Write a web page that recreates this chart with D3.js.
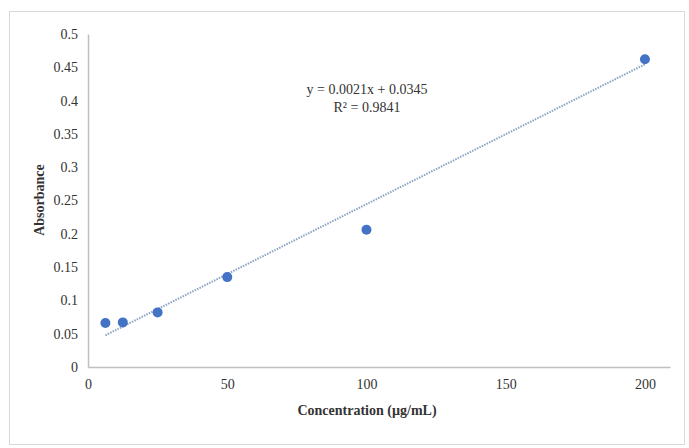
<!DOCTYPE html>
<html><head><meta charset="utf-8">
<script src="https://cdn.jsdelivr.net/npm/d3@7"></script>
<style>body{margin:0;background:#fff}svg{display:block}text{font-family:"Liberation Serif","DejaVu Serif",serif}</style>
</head><body>
<svg id="c" width="689" height="448"></svg>
<script>
const concentration = [6.25, 12.5, 25, 50, 100, 200];
const absorbance = [0.066, 0.067, 0.082, 0.135, 0.206, 0.462];
const xTicks = [0, 50, 100, 150, 200];
const yTicks = [0, 0.05, 0.1, 0.15, 0.2, 0.25, 0.3, 0.35, 0.4, 0.45, 0.5];
const trendSlope = 0.0021, trendIntercept = 0.0345;
const equationLabel = "y = 0.0021x + 0.0345";
const r2Label = "R² = 0.9841";

const svg = d3.select("#c");
svg.append("rect").attr("x",9.5).attr("y",11.5).attr("width",675).attr("height",433)
  .attr("fill","#fff").attr("stroke","#d9d9d9");

const x = d3.scaleLinear().domain([0,209]).range([88,670]);
const y = d3.scaleLinear().domain([0,0.5]).range([367,34]);

const xa = svg.append("g").attr("transform","translate(0,367)")
  .call(d3.axisBottom(x).tickValues(xTicks).tickSize(0).tickPadding(12).tickFormat(d3.format("d")));
const ya = svg.append("g").attr("transform","translate(88,0)")
  .call(d3.axisLeft(y).tickValues(yTicks).tickSize(0).tickPadding(10).tickFormat(d=>String(+d.toFixed(2))));
[xa,ya].forEach(a=>{a.select(".domain").attr("stroke","#bfbfbf").attr("stroke-width",1.5);
  a.selectAll("text").attr("font-size",14).attr("fill","#333").attr("font-family","Liberation Serif");});

// trendline
const tx = d3.extent(concentration);
svg.append("line")
  .attr("x1",x(tx[0])).attr("y1",y(trendSlope*tx[0]+trendIntercept))
  .attr("x2",x(tx[1])).attr("y2",y(trendSlope*tx[1]+trendIntercept))
  .attr("stroke","#8aa2c6").attr("stroke-width",2).attr("stroke-dasharray","1.5,1.2");

svg.selectAll("circle.pt").data(concentration).join("circle").attr("class","pt")
  .attr("cx",d=>x(d)).attr("cy",(d,i)=>y(absorbance[i])).attr("r",5)
  .attr("fill","#4472c4");

svg.append("text").attr("x",367).attr("y",94).attr("text-anchor","middle")
  .attr("font-size",14).attr("fill","#333").text(equationLabel);
svg.append("text").attr("x",367).attr("y",112).attr("text-anchor","middle")
  .attr("font-size",14).attr("fill","#333").text(r2Label);

svg.append("text").attr("x",367).attr("y",415).attr("text-anchor","middle")
  .attr("font-size",14).attr("font-weight","bold").attr("fill","#333").text("Concentration (µg/mL)");
svg.append("text").attr("transform","translate(44,200) rotate(-90)").attr("text-anchor","middle")
  .attr("font-size",14).attr("font-weight","bold").attr("fill","#333").text("Absorbance");
</script>
</body></html>
